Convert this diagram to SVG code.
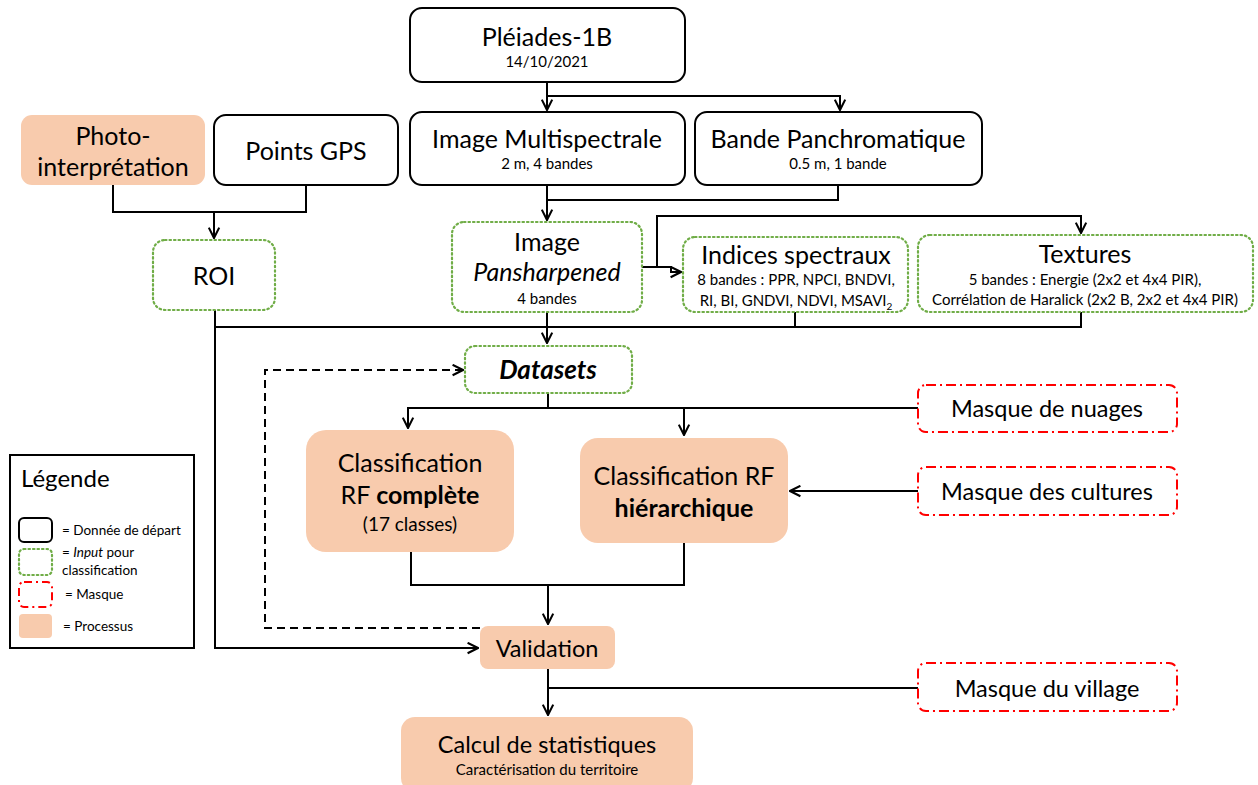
<svg xmlns="http://www.w3.org/2000/svg" width="1258" height="785" viewBox="0 0 1258 785">
  <style>
    text { font-family: Lato, "Open Sans", "Liberation Sans", sans-serif; fill: #000; text-anchor: middle; }
    .data { fill: #fff; stroke: #000; stroke-width: 2; }
    .input { fill: #fff; stroke: #70AD47; stroke-width: 2.2; stroke-dasharray: 1.5 3; stroke-linecap: round; }
    .mask { fill: #fff; stroke: #FF0000; stroke-width: 2; stroke-dasharray: 10 4 2 4; }
    .proc { fill: #F8CBAD; stroke: none; }
    .t1 { font-size: 25px; }
    .t2 { font-size: 15px; }
    .tm { font-size: 23.5px; }
    .conn path { fill: none; stroke: #000; stroke-width: 2; }
    .conn path.dash { stroke-dasharray: 8 5; }
    .lg { text-anchor: start; font-size: 13.5px; }
    .lgt { text-anchor: start; font-size: 24px; }
  </style>
  <defs>
    <marker id="arr" viewBox="0 0 10 10" refX="9" refY="5" markerWidth="13" markerHeight="13" markerUnits="userSpaceOnUse" orient="auto">
      <path d="M1,1 L9,5 L1,9" fill="none" stroke="#000" stroke-width="1.6"/>
    </marker>
  </defs>

  <!-- connectors -->
  <g id="connectors" class="conn">
    <path d="M547,82 V110" marker-end="url(#arr)"/>
    <path d="M547,96 H840 V110" marker-end="url(#arr)"/>
    <path d="M113,185 V212 H306 V185"/>
    <path d="M214,212 V238" marker-end="url(#arr)"/>
    <path d="M547,185 V220" marker-end="url(#arr)"/>
    <path d="M838,185 V200 H547"/>
    <path d="M642,267 H657 V216 H1081 V233" marker-end="url(#arr)"/>
    <path d="M657,267 H671 V272 H681" marker-end="url(#arr)"/>
    <path d="M215,327 H1081 V312"/>
    <path d="M795,312 V327"/>
    <path d="M547,312 V343" marker-end="url(#arr)"/>
    <path d="M215,310 V648 H478" marker-end="url(#arr)"/>
    <path d="M548,393 V408"/>
    <path d="M918,408 H408 V428" marker-end="url(#arr)"/>
    <path d="M684,408 V435" marker-end="url(#arr)"/>
    <path d="M918,491 H790" marker-end="url(#arr)"/>
    <path d="M411,552 V585 H684 V543"/>
    <path d="M548,585 V624" marker-end="url(#arr)"/>
    <path class="dash" d="M480,628 H265 V370 H463" marker-end="url(#arr)"/>
    <path d="M548,669 V715" marker-end="url(#arr)"/>
    <path d="M918,688 H548"/>
  </g>

  <g id="pleiades">
    <rect class="data" x="410" y="8" width="275" height="74" rx="12"/>
    <text x="547" y="46" class="t1" font-size="26">Pléiades-1B</text>
    <text x="547" y="67" class="t2">14/10/2021</text>
  </g>
  <g id="multispectrale">
    <rect class="data" x="410" y="112" width="275" height="73" rx="12"/>
    <text x="547" y="148" class="t1">Image Multispectrale</text>
    <text x="547" y="169" class="t2">2 m, 4 bandes</text>
  </g>
  <g id="panchromatique">
    <rect class="data" x="695" y="112" width="287" height="73" rx="12"/>
    <text x="838" y="148" class="t1">Bande Panchromatique</text>
    <text x="838" y="169" class="t2">0.5 m, 1 bande</text>
  </g>
  <g id="photo">
    <rect class="proc" x="21" y="115" width="184" height="70" rx="11"/>
    <text x="113" y="145" class="t1">Photo-</text>
    <text x="113" y="176" class="t1">interprétation</text>
  </g>
  <g id="gps">
    <rect class="data" x="214" y="115" width="184" height="70" rx="12"/>
    <text x="306" y="160" class="t1">Points GPS</text>
  </g>
  <g id="roi">
    <rect class="input" x="153" y="240" width="122" height="70" rx="12"/>
    <text x="214" y="285" class="t1">ROI</text>
  </g>
  <g id="pansharpened">
    <rect class="input" x="452" y="222" width="190" height="90" rx="12"/>
    <text x="547" y="251" class="t1">Image</text>
    <text x="547" y="281" class="t1" font-style="italic">Pansharpened</text>
    <text x="547" y="304" class="t2">4 bandes</text>
  </g>
  <g id="indices">
    <rect class="input" x="683" y="237" width="225" height="75" rx="12"/>
    <text x="796" y="264" class="t1">Indices spectraux</text>
    <text x="796" y="285" class="t2">8 bandes : PPR, NPCI, BNDVI,</text>
    <text x="796" y="306" class="t2">RI, BI, GNDVI, NDVI, MSAVI<tspan font-size="10" dy="4">2</tspan></text>
  </g>
  <g id="textures">
    <rect class="input" x="918" y="235" width="335" height="77" rx="12"/>
    <text x="1085" y="263" class="t1">Textures</text>
    <text x="1085" y="285" class="t2">5 bandes : Energie (2x2 et 4x4 PIR),</text>
    <text x="1085" y="305" class="t2">Corrélation de Haralick (2x2 B, 2x2 et 4x4 PIR)</text>
  </g>
  <g id="datasets">
    <rect class="input" x="465" y="346" width="167" height="47" rx="10"/>
    <text x="548" y="379" font-size="26" font-weight="bold" font-style="italic">Datasets</text>
  </g>
  <g id="complete">
    <rect class="proc" x="306" y="430" width="208" height="122" rx="20"/>
    <text x="410" y="472" class="t1">Classification</text>
    <text x="410" y="504" class="t1">RF <tspan font-weight="bold">complète</tspan></text>
    <text x="410" y="531" font-size="19">(17 classes)</text>
  </g>
  <g id="hierarchique">
    <rect class="proc" x="580" y="438" width="208" height="105" rx="18"/>
    <text x="684" y="485" class="t1">Classification RF</text>
    <text x="684" y="517" class="t1" font-weight="bold">hiérarchique</text>
  </g>
  <g id="nuages">
    <rect class="mask" x="918" y="385" width="259" height="47" rx="8"/>
    <text x="1047" y="417" class="tm">Masque de nuages</text>
  </g>
  <g id="cultures">
    <rect class="mask" x="918" y="467" width="259" height="48" rx="8"/>
    <text x="1047" y="500" class="tm">Masque des cultures</text>
  </g>
  <g id="validation">
    <rect class="proc" x="480" y="626" width="135" height="43" rx="8"/>
    <text x="547" y="657" class="tm">Validation</text>
  </g>
  <g id="village">
    <rect class="mask" x="918" y="663" width="259" height="48" rx="8"/>
    <text x="1047" y="697" class="tm">Masque du village</text>
  </g>
  <g id="statistiques">
    <rect class="proc" x="401" y="717" width="292" height="75" rx="14"/>
    <text x="547" y="753" class="tm">Calcul de statistiques</text>
    <text x="547" y="775" font-size="15">Caractérisation du territoire</text>
  </g>

  <g id="legende">
    <rect x="10" y="455" width="184" height="193" fill="#fff" stroke="#000" stroke-width="2"/>
    <text class="lgt" x="21" y="487">Légende</text>
    <rect class="data" x="19" y="518" width="33" height="24" rx="5"/>
    <text class="lg" x="62" y="535">= Donnée de départ</text>
    <rect class="input" x="19" y="549" width="33" height="26" rx="5"/>
    <text class="lg" x="62" y="557">= <tspan font-style="italic">Input</tspan> pour</text>
    <text class="lg" x="62" y="575">classification</text>
    <rect class="mask" x="19" y="582" width="33" height="25" rx="5" style="stroke-dasharray:8 4 2 4"/>
    <text class="lg" x="65" y="599">= Masque</text>
    <rect class="proc" x="19" y="614" width="33" height="24" rx="4"/>
    <text class="lg" x="63" y="631">= Processus</text>
  </g>
</svg>
